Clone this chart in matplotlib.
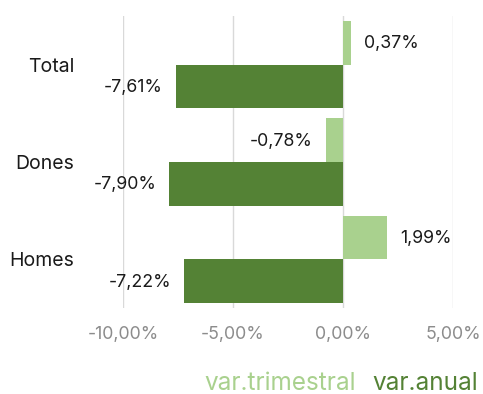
import numpy as np
import matplotlib.pyplot as plt

# Variació de l'ocupació per sexe
categories = ['Total', 'Dones', 'Homes']
var_trimestral = [0.37, -0.78, 1.99]
var_anual = [-7.61, -7.90, -7.22]
xticks = [-10, -5, 0, 5]

color_trim = '#A9D18E'
color_anual = '#548235'

plt.rcParams['font.family'] = ['Inter', 'DejaVu Sans']


def fmt(val):
    return f'{val:.2f}%'.replace('.', ',')


def main():
    fig = plt.figure(figsize=(4.83, 3.94), dpi=100)
    ax = fig.add_axes([0.2547, 0.2183, 0.6832, 0.7411])

    y = np.arange(len(categories))
    h = 0.45
    ax.barh(y - h / 2, var_trimestral, height=h, color=color_trim, zorder=2)
    ax.barh(y + h / 2, var_anual, height=h, color=color_anual, zorder=2)

    # etiquetes de valor
    for yy, val in zip(y - h / 2, var_trimestral):
        off = 13 if val >= 0 else -13
        ax.annotate(fmt(val), (val, yy), xytext=(off, -1), textcoords='offset pixels',
                    ha='left' if val >= 0 else 'right', va='center', fontsize=12.8, color='#1a1a1a')
    for yy, val in zip(y + h / 2, var_anual):
        ax.annotate(fmt(val), (val, yy), xytext=(-13, -1), textcoords='offset pixels',
                    ha='right', va='center', fontsize=12.8, color='#1a1a1a')

    ax.set_xlim(-10, 5)
    ax.set_ylim(2.5, -0.5)
    ax.set_xticks(xticks)
    ax.set_xticklabels([fmt(t) for t in xticks], fontsize=12.8, color='#8c8c8c')
    ax.set_yticks(y)
    ax.set_yticklabels(categories, fontsize=14, color='#1a1a1a')
    ax.tick_params(axis='x', length=0, pad=13)
    ax.tick_params(axis='y', length=0, pad=35)
    ax.grid(axis='x', color='#d9d9d9', linewidth=1, zorder=0)
    for s in ax.spines.values():
        s.set_visible(False)

    # llegenda amb el text acolorit
    fig.text(0.737, 1 - 384 / 394, 'var.trimestral', color=color_trim, fontsize=17.5,
             ha='right', va='center')
    fig.text(0.770, 1 - 384 / 394, 'var.anual', color=color_anual, fontsize=17.5,
             ha='left', va='center')

    fig.savefig('out.png', dpi=100)


if __name__ == "__main__":
    main()
